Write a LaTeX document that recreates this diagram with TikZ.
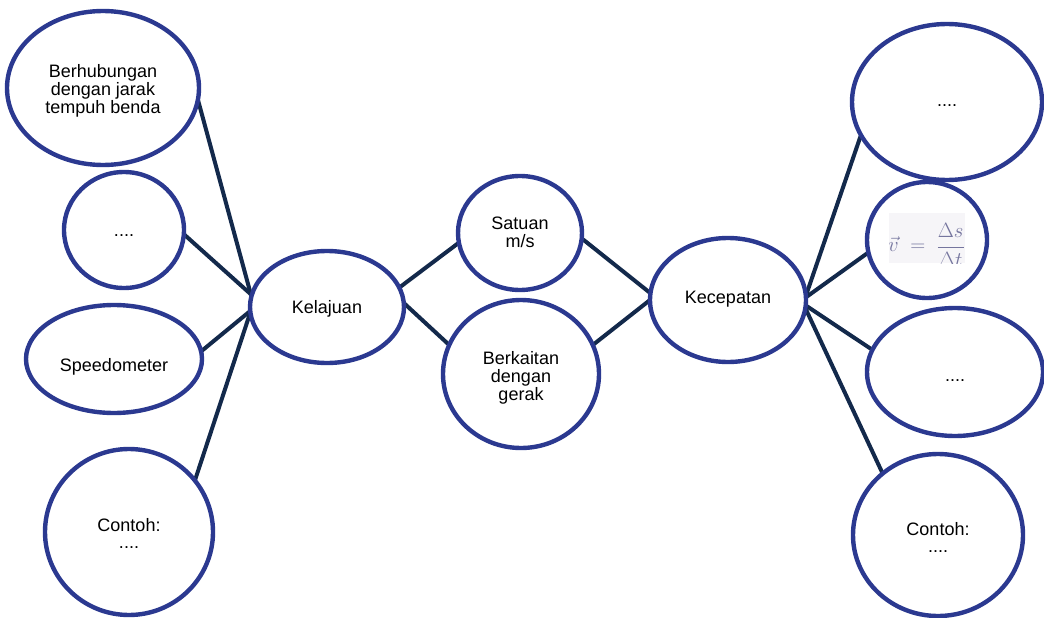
\documentclass[tikz,border=0pt]{standalone}
\usepackage{fontspec}
\setmainfont{Liberation Sans}
\usetikzlibrary{shapes.geometric}
\definecolor{ellblue}{HTML}{2B3990}
\definecolor{linenavy}{HTML}{13294B}
\definecolor{fmcol}{rgb}{0.46,0.46,0.62}
\definecolor{fmbg}{rgb}{0.965,0.962,0.972}
\pgfdeclarelayer{bg}
\pgfsetlayers{bg,main}
\newcommand{\elltext}[2]{\raisebox{-#1pt}[\height][\depth]{\begin{tabular}{@{}c@{}}#2\end{tabular}}}
\tikzset{
  ell/.style={ellipse, draw=ellblue, line width=4.4pt, fill=white, inner sep=0pt, outer sep=0pt,
    align=center, font=\fontsize{18}{16.5}\selectfont},
  conn/.style={draw=linenavy, line width=4pt}
}
\begin{document}
\begin{tikzpicture}[x=1pt,y=-1pt]
\useasboundingbox (0,0) rectangle (1044,618);
% nodes
\node[ell, minimum width=192pt, minimum height=154pt] (bh) at (103,88) {\elltext{3}{Berhubungan\\dengan jarak\\tempuh benda}};
\node[ell, minimum width=120pt, minimum height=116pt] (d1) at (124,230) {\elltext{3}{....}};
\node[ell, minimum width=176pt, minimum height=108pt] (sp) at (114,359) {\elltext{8}{Speedometer}};
\node[ell, minimum width=168pt, minimum height=166pt] (c1) at (129,532) {\elltext{4}{Contoh:\\....}};
\node[ell, minimum width=154pt, minimum height=112pt] (kel) at (327,307) {\elltext{2}{Kelajuan}};
\node[ell, minimum width=124pt, minimum height=114pt] (sat) at (520,233) {\elltext{2}{Satuan\\m/s}};
\node[ell, minimum width=156pt, minimum height=148pt] (bk) at (521,374) {\elltext{4}{Berkaitan\\dengan\\gerak}};
\node[ell, minimum width=156pt, minimum height=124pt] (kec) at (728,300) {\elltext{0}{Kecepatan}};
\node[ell, minimum width=190pt, minimum height=156pt] (tr) at (947,102) {\elltext{1}{....}};
\node[ell, minimum width=120pt, minimum height=116pt] (fm) at (927,240) {};
\node[ell, minimum width=176pt, minimum height=128pt] (tr3) at (955,372) {\elltext{6}{....}};
\node[ell, minimum width=170pt, minimum height=162pt] (c2) at (938,535) {\elltext{5}{Contoh:\\....}};
% formula
\begin{scope}
\clip (889,213) rectangle (965,263);
\fill[fmbg] (889,213) rectangle (965,263);
\node[anchor=west, text=fmcol, inner sep=0pt, font=\fontsize{22}{22}\selectfont] (fmtext) at (888,245)
  {$\vec{v}\;=\;\displaystyle\frac{\Delta s}{\Delta t}$};
\end{scope}
% connectors
\begin{pgfonlayer}{bg}
\draw[conn] (bh.-7) -- (kel.172);
\draw[conn] (d1.-4) -- (kel.171);
\draw[conn] (sp.5) -- (kel.183);
\draw[conn] (c1.38) -- (kel.184);
\draw[conn] (kel.15) -- (sat.189);
\draw[conn] (kel.3) -- (bk.158);
\draw[conn] (sat.-5) -- (kec.175);
\draw[conn] (bk.22) -- (kec.180);
\draw[conn] (kec.3) -- (tr.201);
\draw[conn] (kec.2) -- (fm.192);
\draw[conn] (kec.-4) -- (tr3.165);
\draw[conn] (kec.-6) -- (c2.132);
\end{pgfonlayer}
\end{tikzpicture}
\end{document}
